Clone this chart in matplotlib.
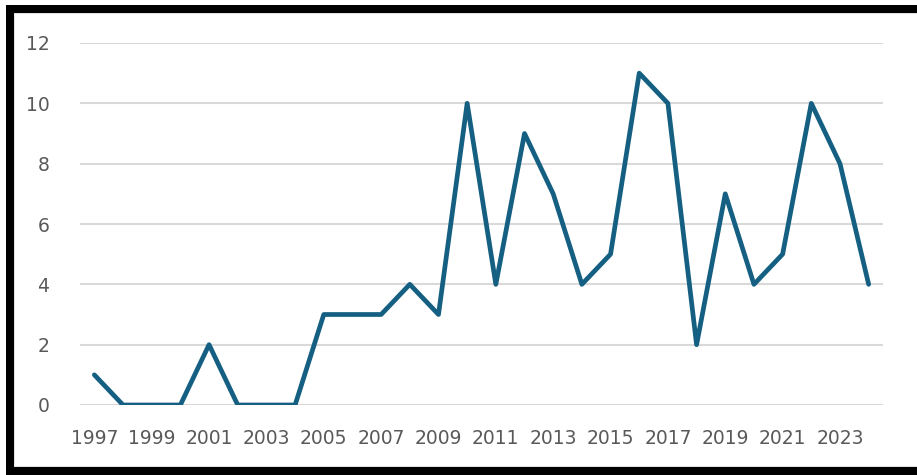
import matplotlib
matplotlib.use('Agg')
import matplotlib.pyplot as plt
from matplotlib.patches import Rectangle

years = list(range(1997, 2025))
counts = [1, 0, 0, 0, 2, 0, 0, 0, 3, 3, 3, 4, 3, 10, 4, 9, 7, 4, 5, 11, 10, 2, 7, 4, 5, 10, 8, 4]
tick_years = list(range(1997, 2024, 2))
y_ticks = [0, 2, 4, 6, 8, 10, 12]

W, H = 917, 475
fig = plt.figure(figsize=(W / 100, H / 100), dpi=100)
fig.patch.set_facecolor('white')

# frame: thick black on left/top/bottom, thin grey line just inside
def px_rect(x0, y0, x1, y1, color):
    fig.patches.append(Rectangle((x0 / W, 1 - y1 / H), (x1 - x0) / W, (y1 - y0) / H,
                                 transform=fig.transFigure, color=color, zorder=0, linewidth=0))

px_rect(6, 5, W, 13, 'black')
px_rect(6, 5, 14, H, 'black')
px_rect(6, 467, W, H, 'black')
px_rect(14, 13, W, 14, '#e3e3e3')
px_rect(14, 13, 15, 467, '#e3e3e3')
px_rect(14, 466, W, 467, '#e3e3e3')

ax = fig.add_axes([80 / W, 70 / H, 803 / W, 362 / H])
ax.plot(years, counts, color='#156082', linewidth=3.4, solid_joinstyle='round',
        solid_capstyle='round', zorder=3)

ax.set_xlim(1996.5, 2024.5)
ax.set_ylim(0, 12)
ax.set_xticks(tick_years)
ax.set_xticklabels([str(y) for y in tick_years])
ax.set_yticks(y_ticks)
ax.grid(axis='y', color='#d9d9d9', linewidth=1.5, zorder=1)
ax.set_axisbelow(True)
for s in ax.spines.values():
    s.set_visible(False)
ax.tick_params(axis='both', length=0, labelsize=13.5, labelcolor='#595959')
ax.tick_params(axis='x', pad=17)
ax.tick_params(axis='y', pad=22)

fig.savefig('out.png', dpi=100)
